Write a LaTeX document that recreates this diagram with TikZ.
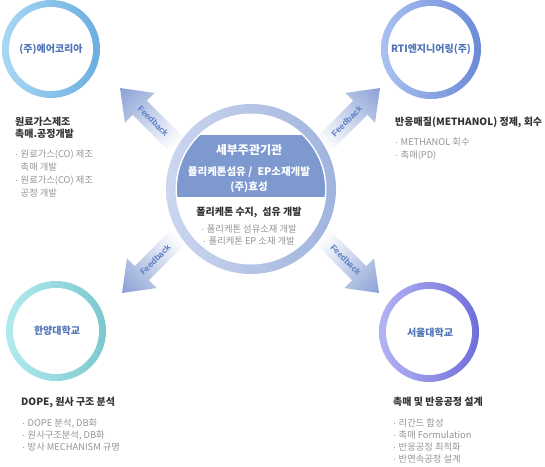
\documentclass[tikz,border=0pt]{standalone}
\usepackage{fontspec}
\setmainfont{Noto Sans CJK KR}
\newfontfamily\fbfont{Liberation Sans}
\definecolor{arrowblue}{HTML}{8AA1D5}
\definecolor{fbblue}{HTML}{5B7EC4}
\definecolor{lblblue}{HTML}{4F74B8}
\definecolor{ttlgray}{HTML}{333333}
\definecolor{bulgray}{HTML}{949494}
\definecolor{bannerblue}{HTML}{7D99CF}
\definecolor{cringA}{HTML}{CBD6EF}
\definecolor{cringB}{HTML}{A1B4DE}
\definecolor{tlA}{HTML}{A8D8F3}
\definecolor{tlB}{HTML}{6AAEE0}
\definecolor{trA}{HTML}{AAC0F0}
\definecolor{trB}{HTML}{6A8AD8}
\definecolor{blA}{HTML}{B2EBEF}
\definecolor{blB}{HTML}{7CC8CF}
\definecolor{brA}{HTML}{B4B4F4}
\definecolor{brB}{HTML}{6E6ED9}
\newcommand{\bu}{\makebox[5.5pt][l]{\fbfont ·}}
\newcommand{\bi}{\hspace*{5.5pt}}
% tip x, tip y (px), direction angle, text rotation, node name
\newcommand{\fbarrow}[5]{%
  \begin{scope}[transform canvas={xshift=#1pt,yshift=-#2pt,rotate=#3}]
    \shade[left color=white,right color=arrowblue]
      (0,0) -- (-28,21) -- (-28,10) -- (-80,10) -- (-80,-10) -- (-28,-10) -- (-28,-21) -- cycle;
    \node[fbtext,rotate=#4] (#5) at (-47,0) {Feedback};
  \end{scope}}
% centre x, centre y (px), outer radius, inner radius, colour A, colour B
\newcommand{\ringdisk}[6]{%
  \shade[left color=#5,right color=#6] (#1,-#2) circle (#3pt);
  \fill[white] (#1,-#2) circle (#4pt);}
\begin{document}
\begin{tikzpicture}[x=1pt,y=1pt,
  lbl/.style={font=\fontsize{10}{12}\selectfont\bfseries, text=lblblue, inner sep=0},
  ttl/.style={font=\fontsize{10}{11.5}\selectfont\bfseries, text=ttlgray, inner sep=0, align=left, anchor=north west},
  bul/.style={font=\fontsize{9.3}{12.3}\selectfont, text=bulgray, inner sep=0, align=left, anchor=north west},
  fbtext/.style={font=\fbfont\bfseries\fontsize{8.5}{10}\selectfont, text=fbblue, inner sep=0},
  wtxt/.style={text=white, inner sep=0}]
\useasboundingbox (0,0) rectangle (545,-466);

% feedback arrows
\fbarrow{120}{88}{135}{180}{fb1}
\fbarrow{380}{88}{45}{0}{fb2}
\fbarrow{122}{293}{225}{180}{fb3}
\fbarrow{379}{293}{-45}{0}{fb4}

% partner circles
\ringdisk{51}{49}{49}{42}{tlA}{tlB}
\ringdisk{431}{49}{50}{43}{trA}{trB}
\ringdisk{56}{331}{50}{43}{blA}{blB}
\ringdisk{429}{332}{50}{43}{brA}{brB}

% central circle
\ringdisk{251}{189}{85}{75.5}{cringA}{cringB}
\begin{scope}
  \clip (251,-189) circle (74pt);
  \fill[bannerblue] (160,-135) rectangle (345,-197);
\end{scope}

% circle labels
\node[lbl] (tlc) at (51,-49) {(주)에어코리아};
\node[lbl] (trc) at (431,-49) {RTI엔지니어링(주)};
\node[lbl] (blc) at (57,-331) {한양대학교};
\node[lbl] (brc) at (430,-333) {서울대학교};

% central texts
\node[wtxt, font=\fontsize{12}{14}\selectfont\bfseries] (c1) at (249,-150) {세부주관기관};
\node[wtxt, font=\fontsize{10.5}{12}\selectfont\bfseries] (c2) at (249,-172) {폴리케톤섬유 /\enspace EP소재개발};
\node[wtxt, font=\fontsize{10.5}{12}\selectfont\bfseries] (c3) at (249,-187) {(주)효성};
\node[ttl, anchor=center] (c4) at (249,-212) {폴리케톤 수지,\enspace 섬유 개발};
\node[bul, anchor=north, align=center, font=\fontsize{9.3}{12}\selectfont] (c5) at (249,-225) {\bu 폴리케톤 섬유소재 개발\\\bu 폴리케톤 EP 소재 개발};

% top-left texts
\node[ttl] (tlT) at (15,-117) {원료가스제조\\촉매.공정개발};
\node[bul, font=\fontsize{9.3}{12.8}\selectfont] (tlB) at (15,-150) {\bu 원료가스(CO) 제조\\\bi 촉매 개발\\\bu 원료가스(CO) 제조\\\bi 공정 개발};

% top-right texts
\node[ttl] (trT) at (395,-117) {반응매질(METHANOL) 정제, 회수};
\node[bul, font=\fontsize{9.3}{13}\selectfont] (trB) at (395,-138) {\bu METHANOL 회수\\\bu 촉매(PD)};

% bottom-left texts
\node[ttl] (blT) at (21,-397) {DOPE, 원사 구조 분석};
\node[bul, font=\fontsize{9.3}{11.8}\selectfont] (blB) at (22,-419) {\bu DOPE 분석, DB화\\\bu 원사구조분석, DB화\\\bu 방사 MECHANISM 규명};

% bottom-right texts
\node[ttl] (brT) at (393,-397) {촉매 및 반응공정 설계};
\node[bul, font=\fontsize{9.3}{11.8}\selectfont] (brB) at (393,-419) {\bu 리간드 합성\\\bu 촉매 Formulation\\\bu 반응공정 최적화\\\bu 반연속공정 설계};
\end{tikzpicture}
\end{document}
